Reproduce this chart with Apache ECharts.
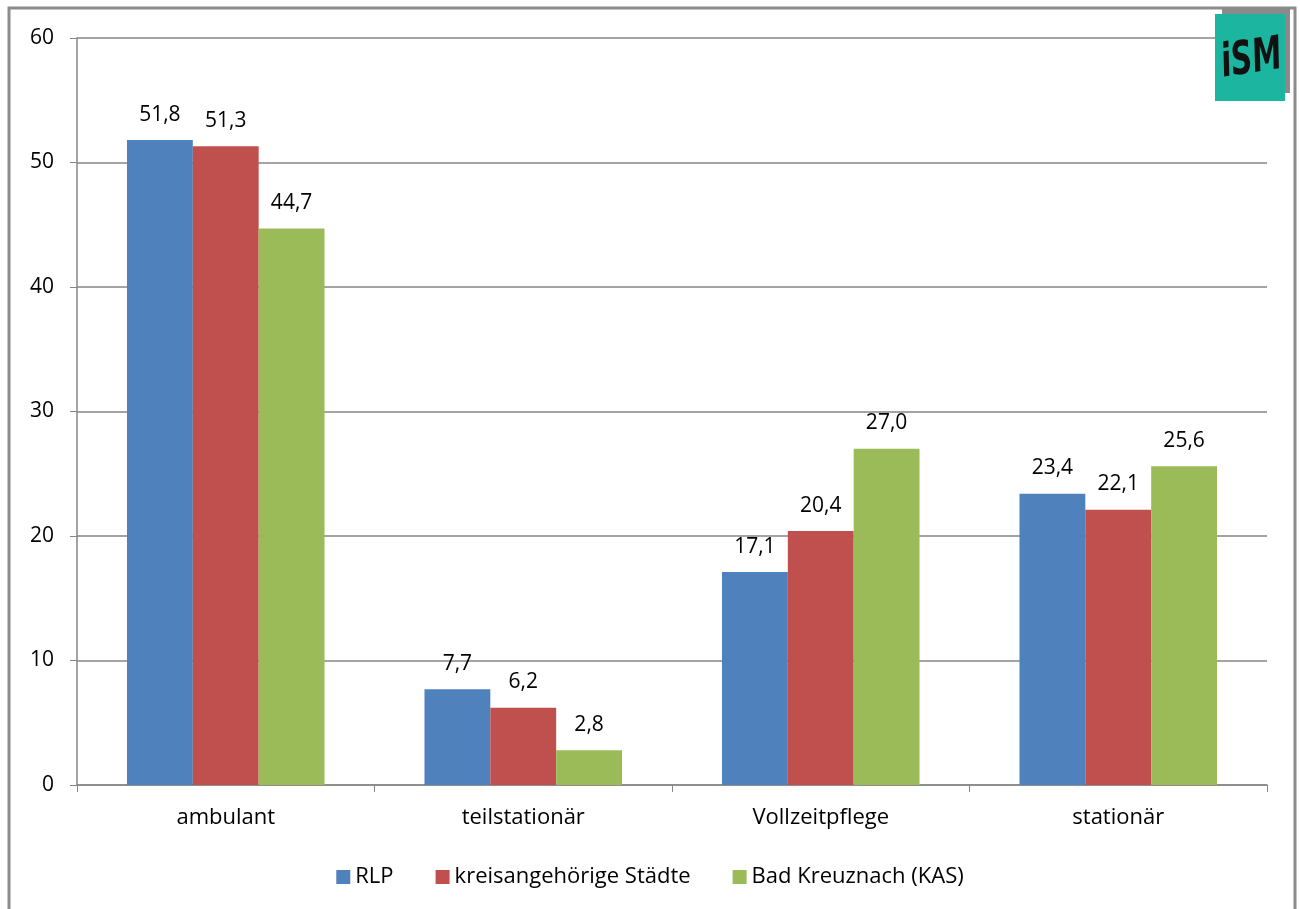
<!DOCTYPE html>
<html>
<head>
<meta charset="utf-8">
<script src="https://cdn.jsdelivr.net/npm/echarts@6/dist/echarts.min.js"></script>
<style>
  html, body { margin: 0; padding: 0; background: #fff; }
  #chart { width: 1300px; height: 909px; }
</style>
</head>
<body>
<div id="chart"></div>
<script>
const categories = ['ambulant', 'teilstationär', 'Vollzeitpflege', 'stationär']
const seriesNames = ['RLP', 'kreisangehörige Städte', 'Bad Kreuznach (KAS)']
const rlp = [51.8, 7.7, 17.1, 23.4]
const staedte = [51.3, 6.2, 20.4, 22.1]
const kas = [44.7, 2.8, 27.0, 25.6]
const yTicks = [0, 10, 20, 30, 40, 50, 60]

const colors = ['#4F81BD', '#C0504D', '#9BBB59']
const font = 'Open Sans'
const fontSize = 22

const chart = echarts.init(document.getElementById('chart'))

// Excel style data label: one decimal, comma as separator
const fmt = (p) => p.value.toFixed(1).replace('.', ',')

const makeSeries = (name, data, i) => ({
  name: name,
  type: 'bar',
  data: data,
  barGap: '0%',
  barCategoryGap: '33.6%',
  itemStyle: { color: colors[i] },
  label: {
    show: true,
    position: 'top',
    distance: 15,
    formatter: fmt,
    color: '#000',
    fontFamily: font,
    fontSize: 21,
  },
})

chart.setOption({
  animation: false,
  textStyle: { fontFamily: font },
  grid: { left: 77, right: 33, top: 38, bottom: 124, containLabel: false },
  legend: {
    bottom: 16,
    left: 'center',
    itemWidth: 14,
    itemHeight: 14,
    itemGap: 42,
    icon: 'rect',
    textStyle: { fontFamily: font, fontSize: fontSize, color: '#000' },
    data: seriesNames,
  },
  xAxis: {
    type: 'category',
    data: categories,
    axisLine: { lineStyle: { color: '#868686', width: 1.5 } },
    axisTick: { show: true, length: 7, lineStyle: { color: '#868686' } },
    axisLabel: { color: '#000', fontFamily: font, fontSize: fontSize, margin: 22 },
  },
  yAxis: {
    type: 'value',
    min: yTicks[0],
    max: yTicks[yTicks.length - 1],
    interval: 10,
    axisLine: { show: true, lineStyle: { color: '#868686', width: 1.5 } },
    axisTick: { show: true, length: 7, lineStyle: { color: '#868686' } },
    splitLine: { lineStyle: { color: '#868686', width: 1.5 } },
    axisLabel: { color: '#000', fontFamily: font, fontSize: 21, margin: 23 },
  },
  series: [
    makeSeries(seriesNames[0], rlp, 0),
    makeSeries(seriesNames[1], staedte, 1),
    makeSeries(seriesNames[2], kas, 2),
  ],
  graphic: [
    // chart frame
    {
      type: 'rect',
      shape: { x: 9, y: 8, width: 1286, height: 920 },
      style: { fill: null, stroke: '#8c8c8c', lineWidth: 3 },
      silent: true,
    },
    // logo
    {
      type: 'rect',
      shape: { x: 1222, y: 8, width: 68, height: 85 },
      style: { fill: '#8a8a8a' },
      z: 100,
    },
    {
      type: 'rect',
      shape: { x: 1215, y: 14, width: 70, height: 87 },
      style: { fill: '#1bb5a0' },
      z: 101,
    },
    {
      type: 'text',
      x: 1218,
      y: 42,
      scaleY: 1.4,
      style: {
        text: 'iSM',
        fill: '#111',
        font: 'italic bold 33px "DejaVu Sans Condensed", "DejaVu Sans"',
      },
      rotation: 0.15,
      z: 102,
    },
  ],
})
</script>
</body>
</html>
